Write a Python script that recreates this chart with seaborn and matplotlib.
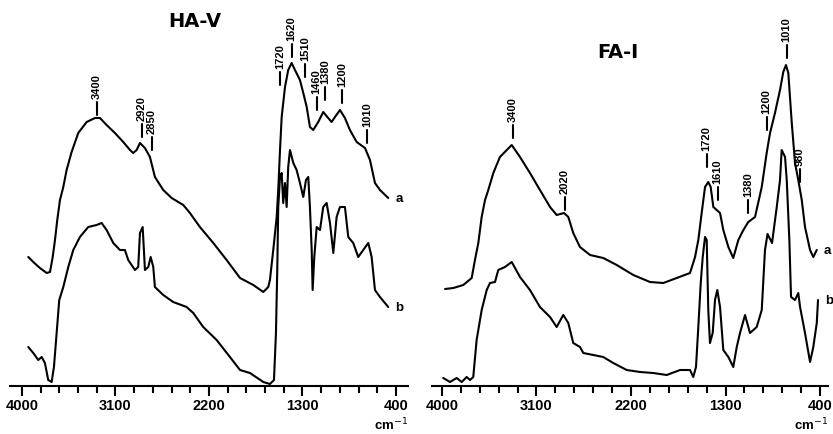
import numpy as np
import pandas as pd
import matplotlib
matplotlib.use("Agg")
import matplotlib.pyplot as plt
import seaborn as sns

# IR spectra, x in cm-1 as on the drawn axis, y in arbitrary absorbance units

# HA-V, curve a
ha_a_wn = [3939, 3891, 3827, 3762, 3730, 3704, 3682, 3660, 3634, 3602,
           3570, 3522, 3458, 3377, 3297, 3249, 3185, 3105, 3025, 2960,
           2929, 2896, 2864, 2816, 2768, 2720, 2640, 2559, 2447, 2383,
           2287, 2158, 2030, 1901, 1773, 1677, 1629, 1613, 1581, 1548,
           1533, 1516, 1500, 1468, 1437, 1404, 1372, 1324, 1292, 1259,
           1228, 1196, 1148, 1100, 1052, 1019, 987, 939, 891, 843,
           778, 698, 650, 602, 554, 474]
ha_a_abs = [12.9, 12.4, 11.8, 11.3, 11.4, 12.9, 14.6, 16.6, 18.6, 19.9,
            21.6, 23.4, 25.3, 26.4, 26.8, 26.8, 26.1, 25.3, 24.4, 23.6,
            23.3, 23.6, 24.3, 23.8, 22.9, 20.9, 19.6, 18.8, 18.1, 17.3,
            15.9, 14.3, 12.6, 10.8, 10.1, 9.4, 9.9, 10.6, 13.6, 16.9,
            19.6, 23.6, 26.9, 29.9, 31.6, 32.3, 31.6, 30.6, 29.3, 27.9,
            25.9, 25.6, 26.4, 27.4, 26.8, 26.4, 26.9, 27.6, 26.8, 25.6,
            24.4, 23.8, 22.6, 20.3, 19.6, 18.8]

# HA-V, curve b
ha_b_wn = [3939, 3891, 3843, 3810, 3779, 3747, 3714, 3692, 3666, 3641,
           3602, 3554, 3506, 3442, 3362, 3281, 3233, 3185, 3121, 3057,
           3009, 2977, 2912, 2881, 2864, 2838, 2816, 2784, 2761, 2736,
           2720, 2640, 2544, 2415, 2351, 2255, 2126, 1998, 1901, 1805,
           1677, 1613, 1574, 1555, 1542, 1533, 1516, 1500, 1485, 1468,
           1452, 1437, 1420, 1388, 1356, 1324, 1292, 1266, 1244, 1228,
           1211, 1202, 1186, 1163, 1131, 1100, 1067, 1035, 1003, 971,
           939, 891, 859, 811, 763, 715, 666, 634, 602, 554,
           474]
ha_b_abs = [3.9, 3.3, 2.6, 2.9, 2.3, 0.6, 0.4, 1.9, 5.3, 8.6,
            9.9, 11.9, 13.6, 14.9, 15.9, 16.1, 16.3, 15.6, 14.3, 13.6,
            13.6, 12.6, 11.6, 11.9, 15.3, 15.9, 11.6, 11.9, 12.9, 11.9,
            9.9, 9.1, 8.4, 7.9, 7.3, 5.9, 4.6, 2.9, 1.6, 1.3,
            0.4, 0.2, 0.6, 5.3, 11.9, 17.9, 20.9, 21.3, 18.3, 20.3,
            17.9, 21.9, 23.6, 22.3, 21.6, 20.3, 18.9, 20.6, 20.9, 17.9,
            13.6, 9.6, 12.9, 15.9, 15.6, 17.9, 18.3, 16.3, 13.3, 16.9,
            17.9, 17.9, 14.9, 14.3, 12.9, 13.6, 14.3, 12.9, 9.6, 8.9,
            7.9]

# FA-I, curve a
fa_a_wn = [3971, 3892, 3797, 3717, 3686, 3654, 3622, 3590, 3559, 3511,
           3448, 3336, 3257, 3162, 3067, 2971, 2908, 2838, 2797, 2750,
           2686, 2590, 2464, 2336, 2178, 2019, 1892, 1765, 1638, 1590,
           1559, 1527, 1495, 1464, 1441, 1416, 1352, 1321, 1273, 1226,
           1178, 1130, 1083, 1019, 955, 908, 876, 829, 781, 750,
           724, 702, 669, 638, 607, 574, 543, 495, 464, 431]
fa_a_abs = [9.7, 9.8, 10.1, 10.8, 12.6, 14.3, 16.9, 18.6, 19.6, 21.3,
            22.9, 24.1, 22.9, 21.3, 19.6, 17.9, 17.1, 17.3, 16.9, 15.3,
            13.9, 13.1, 12.8, 12.1, 11.1, 10.4, 10.3, 10.8, 11.3, 12.9,
            14.6, 17.3, 19.9, 20.4, 19.9, 17.9, 17.3, 15.6, 13.9, 12.8,
            14.6, 15.6, 16.4, 16.9, 19.9, 23.3, 25.3, 27.3, 29.6, 31.4,
            32.1, 31.3, 26.3, 22.3, 20.6, 18.6, 15.9, 13.6, 12.9, 13.6]

# FA-I, curve b
fa_b_wn = [3988, 3924, 3860, 3812, 3765, 3733, 3702, 3670, 3622, 3574,
           3543, 3495, 3464, 3400, 3336, 3257, 3162, 3067, 2971, 2908,
           2845, 2797, 2750, 2686, 2654, 2559, 2464, 2369, 2241, 2114,
           1988, 1860, 1733, 1638, 1607, 1581, 1559, 1536, 1517, 1495,
           1479, 1464, 1448, 1422, 1400, 1378, 1352, 1321, 1273, 1226,
           1193, 1162, 1114, 1067, 1003, 955, 924, 900, 857, 812,
           781, 765, 733, 717, 692, 676, 638, 607, 590, 543,
           495, 464, 431, 419]
fa_b_abs = [0.8, 0.4, 0.8, 0.4, 0.9, 0.6, 0.9, 4.6, 7.6, 9.6,
            10.3, 10.4, 11.6, 11.9, 12.4, 10.9, 9.6, 7.9, 6.9, 5.9,
            7.1, 6.3, 4.3, 3.9, 3.3, 3.1, 2.9, 2.3, 1.6, 1.4,
            1.3, 1.1, 1.6, 1.6, 0.9, 1.9, 5.9, 10.3, 12.9, 14.9,
            14.6, 7.6, 4.3, 5.3, 8.6, 9.6, 7.9, 3.6, 2.9, 1.9,
            3.9, 5.3, 7.1, 5.3, 5.9, 7.6, 13.6, 15.2, 14.3, 17.9,
            20.6, 23.6, 22.9, 20.6, 14.6, 8.9, 8.6, 9.3, 7.9, 5.3,
            2.4, 3.9, 6.3, 8.6]

# band labels: text, position on axis, height of the marker dash
ha_peaks = ["3400", "2920", "2850", "1720", "1620", "1510", "1460", "1380", "1200", "1010"]
ha_peak_wn = [3281, 2848, 2752, 1512, 1404, 1276, 1163, 1083, 915, 679]
ha_peak_y = [27.1, 24.9, 23.6, 30.1, 32.9, 30.9, 27.6, 28.6, 28.3, 24.3]

fa_peaks = ["3400", "2020", "1720", "1610", "1380", "1200", "1010", "980"]
fa_peak_wn = [3327, 2829, 1479, 1374, 1083, 908, 717, 590]
fa_peak_y = [24.8, 17.6, 21.9, 18.6, 17.3, 25.6, 32.8, 20.4]

major_ticks = [4000, 3100, 2200, 1300, 400]
tick_labels = ["4000", "3100", "2200", "1300", "400"]

sns.set_theme(style="white")
plt.rcParams["font.family"] = ["Liberation Sans", "DejaVu Sans"]
plt.rcParams["text.color"] = "black"
plt.rcParams["xtick.color"] = "black"
plt.rcParams["xtick.labelcolor"] = "black"

fig = plt.figure(figsize=(8.33, 4.34), dpi=100)
ax1 = fig.add_axes([10 / 833, 48 / 434, 398 / 833, 386 / 434])
ax2 = fig.add_axes([432 / 833, 48 / 434, 396 / 833, 386 / 434])


def panel(ax, wn_a, abs_a, wn_b, abs_b, peaks, peak_wn, peak_y, title, title_xy, xlim):
    ax.set_facecolor("none")
    for wn, ab, tag in [(wn_a, abs_a, "a"), (wn_b, abs_b, "b")]:
        sns.lineplot(x=wn, y=ab, ax=ax, color="black", lw=1.5, sort=False, estimator=None)
        ax.annotate(tag, (wn[-1], ab[-1]), xytext=(5, -1), textcoords="offset points",
                    ha="left", va="center", fontsize=9.5, fontweight="bold")

    for lab, x, y in zip(peaks, peak_wn, peak_y):
        ax.plot([x, x], [y, y + 1.3], color="black", lw=1.5)
        ax.annotate(lab, (x, y + 1.3), xytext=(0, 2.5), textcoords="offset points",
                    rotation=90, ha="center", va="bottom", fontsize=8, fontweight="bold")

    ax.text(title_xy[0], title_xy[1], title, transform=ax.transAxes, ha="center",
            va="center", fontsize=14, fontweight="bold", family="DejaVu Sans")

    ax.set_xlim(xlim)
    ax.set_ylim(0, 38.6)
    ax.set_yticks([])
    ax.set_xticks(major_ticks)
    ax.set_xticklabels(tick_labels, fontweight="bold", fontsize=10.5)
    ax.set_xticks(np.arange(400, 4001, 180), minor=True)
    ax.tick_params(axis="x", which="major", bottom=True, direction="out", length=7.5,
                   width=1.5, color="black", pad=2)
    ax.tick_params(axis="x", which="minor", bottom=True, direction="out", length=5,
                   width=1.5, color="black")
    ax.set_xlabel("")
    ax.set_ylabel("")
    for s in ["top", "left", "right"]:
        ax.spines[s].set_visible(False)
    ax.spines["bottom"].set_color("black")
    ax.spines["bottom"].set_linewidth(1.5)
    ax.annotate("cm$^{-1}$", (1, 0), xycoords="axes fraction", xytext=(0, -28),
                textcoords="offset points", ha="right", va="center",
                fontsize=9.5, fontweight="bold")


panel(ax1, ha_a_wn, ha_a_abs, ha_b_wn, ha_b_abs, ha_peaks, ha_peak_wn, ha_peak_y,
      "HA-V", (0.465, 0.944), (4115, 284))
panel(ax2, fa_a_wn, fa_a_abs, fa_b_wn, fa_b_abs, fa_peaks, fa_peak_wn, fa_peak_y,
      "FA-I", (0.47, 0.865), (4095, 324))

fig.savefig("out.png", dpi=100, facecolor="white")
